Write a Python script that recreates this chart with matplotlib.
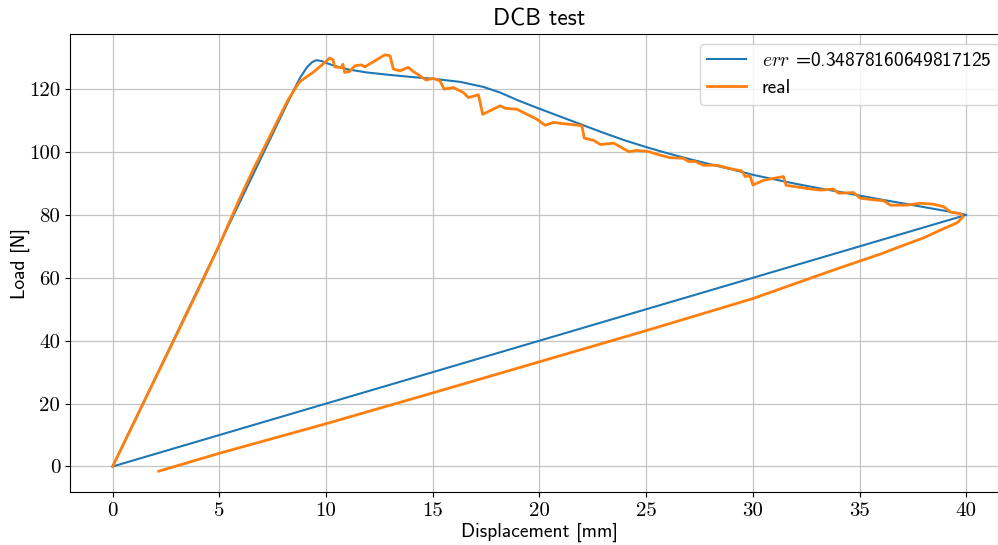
import matplotlib
matplotlib.use("Agg")
import matplotlib.pyplot as plt

# Model response: loading branch, softening branch, unloading back to origin
model_disp = [0.0, 8.5, 8.8, 9.1, 9.35, 9.55, 9.8, 10.05, 10.5, 11.0, 11.9, 13.0,
              14.25, 15.0, 16.28, 17.37, 18.16, 19.0, 20.06, 21.0, 21.9, 23.0,
              24.0, 25.03, 26.0, 27.0, 28.0, 29.0, 30.03, 31.0, 32.0, 33.0, 34.0,
              35.03, 36.0, 37.0, 38.0, 39.0, 40.0, 0.0]
model_load = [0.0, 119.9, 123.8, 126.9, 128.6, 129.2, 128.9, 128.2, 127.2, 126.3,
              125.3, 124.5, 123.7, 123.3, 122.3, 120.7, 118.9, 116.4, 113.6, 111.2,
              108.9, 106.1, 103.7, 101.5, 99.6, 97.8, 96.1, 94.5, 92.7, 91.3, 89.9,
              88.6, 87.4, 86.1, 84.9, 83.7, 82.5, 81.3, 80.0, 0.0]

# Measured response
real_disp = [0.0, 1.0, 2.0, 3.0, 4.0, 5.0, 5.5, 6.0, 6.58, 7.0, 7.83, 8.2, 8.61,
             8.77, 9.0, 9.39, 9.86, 10.17, 10.33, 10.4, 10.71, 10.79, 10.87, 11.1,
             11.35, 11.66, 11.82, 12.29, 12.76, 13.0, 13.15, 13.46, 13.85, 14.09,
             14.4, 14.68, 15.03, 15.34, 15.53, 15.97, 16.44, 16.67, 17.14, 17.34,
             17.77, 18.16, 18.39, 18.94, 19.41, 19.88, 20.27, 20.66, 21.13, 21.84,
             21.99, 22.1, 22.54, 22.85, 23.48, 23.72, 24.19, 24.58, 25.13, 25.65,
             26.12, 26.74, 26.98, 27.29, 27.68, 28.31, 28.94, 29.48, 29.64, 29.87,
             30.0, 30.5, 30.96, 31.43, 31.56, 32.06, 32.53, 33.15, 33.78, 34.01,
             34.72, 35.03, 35.66, 36.13, 36.44, 37.22, 37.85, 38.47, 38.94, 39.26,
             39.73, 39.85, 39.57, 38.8, 38.0, 37.0, 36.0, 34.0, 30.0, 25.0, 20.0,
             15.0, 10.0, 5.0, 2.16]
real_load = [0.0, 14.0, 28.0, 42.0, 56.0, 70.4, 78.2, 85.9, 94.3, 100.0, 111.3,
             116.3, 120.8, 122.3, 123.5, 125.3, 128.0, 129.9, 129.3, 127.1, 126.8,
             127.9, 125.3, 125.6, 127.4, 127.7, 127.1, 129.0, 130.9, 130.6, 126.4,
             125.8, 126.9, 125.6, 124.2, 122.9, 123.4, 122.6, 120.0, 120.5, 118.9,
             117.3, 118.2, 112.0, 113.4, 114.7, 113.9, 113.6, 112.0, 110.4, 108.5,
             109.4, 109.0, 108.5, 108.3, 104.4, 103.7, 102.4, 102.8, 101.9, 100.1,
             100.5, 100.1, 99.0, 98.2, 98.0, 97.0, 97.0, 95.8, 95.8, 94.7, 94.0,
             92.2, 92.4, 89.5, 91.0, 91.6, 92.2, 89.4, 88.9, 88.4, 87.9, 88.2, 86.9,
             87.1, 85.3, 84.8, 84.5, 83.1, 83.1, 83.7, 83.4, 82.6, 80.9, 80.4, 79.4,
             77.5, 75.2, 72.7, 70.2, 67.6, 63.0, 53.4, 43.2, 33.3, 23.4, 13.6, 4.2,
             -1.5]

err_value = "0.34878160649817125"

plt.rcParams["mathtext.fontset"] = "cm"
plt.rcParams["font.family"] = ["cmss10", "DejaVu Sans"]
plt.rcParams["axes.unicode_minus"] = False

fig = plt.figure(figsize=(9.98, 5.45), dpi=100)
ax = fig.add_axes([0.0701, 0.0972, 0.9409, 0.8404])

ax.plot(model_disp, model_load, color="#1f77b4", lw=1.5,
        label=r"$err$ =" + err_value)
ax.plot(real_disp, real_load, color="#ff7f0e", lw=2.0, label="real")

ax.set_xticks([0, 5, 10, 15, 20, 25, 30, 35, 40])
ax.set_yticks([0, 20, 40, 60, 80, 100, 120])
ax.tick_params(labelsize=15, labelfontfamily="cmr10")
ax.grid(True, color="#c4c4c4", lw=0.9)

ax.set_title("DCB test", fontsize=17)
ax.set_xlabel("Displacement [mm]", fontsize=14, labelpad=2)
ax.set_ylabel("Load [N]", fontsize=14, labelpad=-1)
ax.legend(loc="upper right", fontsize=14)

fig.savefig("out.png", dpi=100)
